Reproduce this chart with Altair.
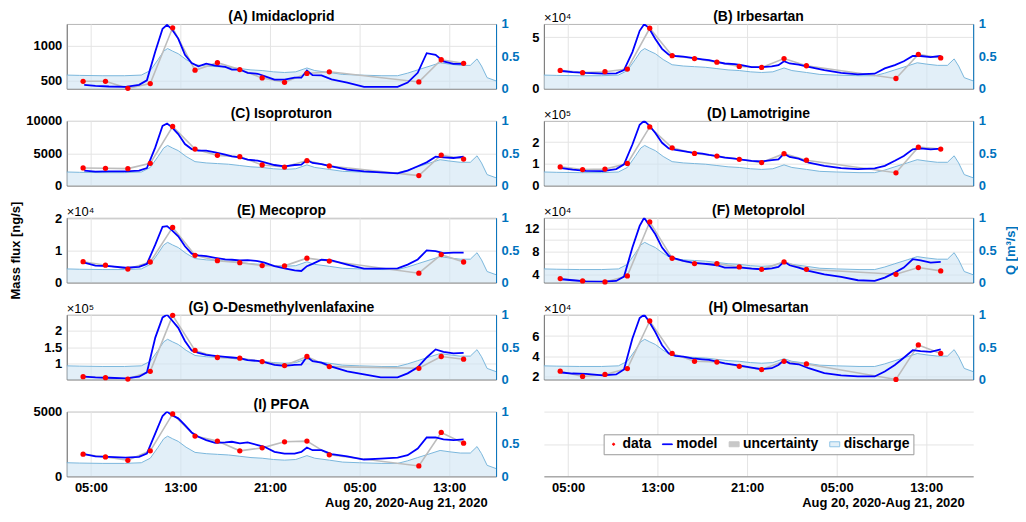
import altair as alt
import pandas as pd

FONT = "Liberation Sans"
BLUE_AX = "#0072BD"
BASE = pd.Timestamp("2020-08-20 00:00")

# ---- time positions (hours after 2020-08-20 00:00) ----
SAMPLE_HOURS = [4.3, 6.3, 8.3, 10.3, 12.3, 14.3, 16.3, 18.3, 20.3, 22.3, 24.3, 26.3, 34.3, 36.3, 38.3]
MODEL_HOURS = [4.4, 5.4, 6.6, 8.1, 9.3, 10.0, 10.75, 11.4, 11.8, 12.2, 12.8, 13.4, 14.0, 14.6, 15.3,
               16.1, 17.0, 17.6, 18.3, 19.0, 19.9, 20.5, 21.4, 22.3, 23.2, 23.8, 24.3, 24.8, 25.6,
               26.5, 27.9, 29.4, 30.9, 32.4, 33.3, 34.2, 35.0, 35.8, 36.5, 37.4, 38.3]
Q_HOURS = [2.84, 4.0, 6.0, 8.0, 9.5, 10.3, 11.0, 11.5, 11.85, 12.3, 12.8, 13.5, 14.3, 15.3, 16.3,
           17.3, 18.3, 19.3, 20.3, 21.3, 22.3, 23.3, 24.3, 25.0, 26.3, 27.5, 29.0, 31.0, 32.4,
           33.3, 34.2, 35.3, 36.2, 37.0, 38.0, 38.9, 39.5, 39.9, 40.4, 41.2]
Q_VALUES = [0.21, 0.205, 0.20, 0.20, 0.21, 0.28, 0.45, 0.58, 0.62, 0.58, 0.54, 0.45, 0.37, 0.35, 0.34,
            0.33, 0.31, 0.29, 0.28, 0.26, 0.25, 0.26, 0.32, 0.28, 0.25, 0.22, 0.21, 0.20, 0.20,
            0.24, 0.29, 0.35, 0.40, 0.38, 0.36, 0.36, 0.46, 0.35, 0.17, 0.12]
X_TICK_HOURS = [5, 13, 21, 29, 37]
X_RANGE_HOURS = [2.84, 41.2]
X_TITLE = "Aug 20, 2020-Aug 21, 2020"

# ---- panels ----
NAMES = ["(A) Imidacloprid", "(B) Irbesartan", "(C) Isoproturon", "(D) Lamotrigine", "(E) Mecoprop",
         "(F) Metoprolol", "(G) O-Desmethylvenlafaxine", "(H) Olmesartan", "(I) PFOA"]
EXPONENTS = ["", "×10⁴", "", "×10⁵", "×10⁴", "×10⁴", "×10⁵", "×10⁴", ""]
Y_DOMAINS = [[390, 1310], [0, 6.3], [0, 10000], [0, 2.98], [0, 2.02], [2.7, 13.8], [0.54, 2.46], [1.74, 8.1], [0, 5000]]
Y_TICKS = [[500, 1000], [0, 5], [0, 5000, 10000], [0, 1, 2], [0, 1, 2], [4, 6, 8, 10, 12], [1, 1.5, 2], [2, 4, 6], [0, 5000]]

imidacloprid_data = [495, 495, 395, 463, 1255, 653, 759, 662, 542, 481, 606, 630, 486, 801, 750]
imidacloprid_model = [444, 430, 421, 417, 444, 509, 917, 1241, 1296, 1241, 1102, 870, 755, 708, 745, 718, 699, 662, 662, 616, 602, 569, 518, 518, 546, 546, 648, 583, 579, 523, 477, 417, 417, 417, 477, 616, 894, 870, 778, 741, 741]
irbesartan_data = [1.78, 1.56, 1.65, 1.91, 5.88, 3.21, 2.93, 2.58, 2.16, 2.07, 2.93, 2.23, 0.99, 3.34, 2.99]
irbesartan_model = [1.72, 1.62, 1.53, 1.46, 1.49, 1.81, 3.56, 5.63, 6.27, 5.95, 4.83, 3.88, 3.31, 3.18, 3.12, 2.99, 2.86, 2.77, 2.61, 2.45, 2.39, 2.29, 2.10, 2.10, 2.16, 2.29, 2.67, 2.45, 2.35, 2.13, 1.81, 1.53, 1.40, 1.46, 1.97, 2.29, 2.67, 3.18, 3.18, 3.08, 3.18]
isoproturon_data = [2720, 2670, 2620, 3440, 9130, 5640, 4670, 4460, 3180, 2870, 3850, 3030, 1540, 4720, 4100]
isoproturon_model = [2310, 2150, 2210, 2210, 2310, 2720, 5900, 9230, 9590, 9080, 7950, 6410, 5640, 5390, 5390, 5130, 4770, 4510, 4360, 4000, 3850, 3590, 3180, 2980, 3180, 3230, 3950, 3490, 3330, 2980, 2460, 2210, 2050, 1900, 2310, 2980, 3590, 4460, 4360, 4260, 4460]
lamotrigine_data = [0.86, 0.74, 0.76, 1.02, 2.70, 1.74, 1.48, 1.36, 1.21, 1.06, 1.47, 1.17, 0.59, 1.77, 1.68]
lamotrigine_model = [0.80, 0.73, 0.68, 0.67, 0.76, 0.98, 1.89, 2.80, 2.98, 2.80, 2.42, 1.97, 1.71, 1.64, 1.59, 1.52, 1.47, 1.41, 1.36, 1.29, 1.24, 1.20, 1.14, 1.11, 1.17, 1.21, 1.47, 1.32, 1.24, 1.06, 0.91, 0.80, 0.76, 0.79, 0.91, 1.14, 1.36, 1.67, 1.71, 1.67, 1.70]
mecoprop_data = [0.65, 0.54, 0.42, 0.64, 1.72, 0.85, 0.68, 0.62, 0.53, 0.52, 0.76, 0.67, 0.29, 0.87, 0.64]
mecoprop_model = [0.62, 0.53, 0.51, 0.46, 0.49, 0.58, 1.18, 1.74, 1.76, 1.64, 1.44, 1.13, 0.90, 0.85, 0.82, 0.77, 0.72, 0.71, 0.69, 0.70, 0.67, 0.62, 0.51, 0.44, 0.38, 0.36, 0.51, 0.58, 0.71, 0.69, 0.56, 0.43, 0.43, 0.44, 0.56, 0.72, 1.00, 0.98, 0.92, 0.93, 0.93]
metoprolol_data = [3.37, 2.97, 2.80, 3.83, 13.09, 6.86, 5.94, 5.94, 5.37, 4.97, 6.23, 4.97, 4.11, 5.26, 4.69]
metoprolol_model = [3.26, 3.09, 2.91, 2.86, 2.97, 3.71, 8.69, 12.4, 13.8, 12.69, 10.97, 8.69, 7.26, 6.80, 6.40, 6.11, 5.94, 5.83, 5.66, 5.26, 5.26, 5.26, 5.09, 4.97, 5.14, 5.37, 6.29, 5.66, 5.26, 4.69, 4.11, 3.66, 3.09, 2.97, 3.54, 4.40, 5.26, 6.69, 6.51, 6.11, 6.23]
odv_data = [0.62, 0.59, 0.55, 0.78, 2.44, 1.40, 1.19, 1.17, 1.07, 0.95, 1.22, 0.92, 0.87, 1.22, 1.14]
odv_model = [0.62, 0.60, 0.59, 0.57, 0.62, 0.75, 1.78, 2.38, 2.46, 2.31, 2.07, 1.68, 1.40, 1.33, 1.27, 1.24, 1.21, 1.19, 1.17, 1.11, 1.09, 1.05, 0.97, 0.94, 0.97, 0.98, 1.21, 1.08, 1.04, 0.92, 0.78, 0.69, 0.60, 0.60, 0.72, 0.90, 1.19, 1.43, 1.36, 1.31, 1.33]
olmesartan_data = [2.55, 2.03, 2.23, 2.81, 7.48, 4.29, 3.52, 3.45, 3.03, 2.71, 3.52, 3.26, 1.74, 5.13, 4.29]
olmesartan_model = [2.42, 2.32, 2.29, 2.13, 2.23, 2.71, 5.77, 7.77, 8.1, 7.5, 6.39, 5.1, 4.29, 4.06, 3.97, 3.81, 3.71, 3.65, 3.48, 3.32, 3.16, 3.06, 2.9, 2.74, 2.84, 3.16, 3.61, 3.32, 3.23, 2.84, 2.35, 2.13, 2.03, 2.03, 2.52, 3.16, 3.87, 4.61, 4.52, 4.45, 4.68]
pfoa_data = [1710, 1500, 1240, 1970, 4820, 3110, 2720, 1970, 2200, 2670, 2720, 1660, 800, 3390, 2560]
pfoa_model = [1710, 1550, 1500, 1450, 1500, 1760, 3320, 4660, 5000, 4740, 4480, 3960, 3390, 3060, 2800, 2590, 2620, 2670, 2540, 2620, 2410, 2280, 1890, 1760, 1760, 1890, 2230, 2020, 2020, 1710, 1550, 1300, 1370, 1450, 1630, 2150, 3000, 3000, 2850, 2800, 2850]

DATA = [imidacloprid_data, irbesartan_data, isoproturon_data, lamotrigine_data, mecoprop_data,
        metoprolol_data, odv_data, olmesartan_data, pfoa_data]
MODEL = [imidacloprid_model, irbesartan_model, isoproturon_model, lamotrigine_model, mecoprop_model,
         metoprolol_model, odv_model, olmesartan_model, pfoa_model]

LEGEND_LABELS = ["data", "model", "uncertainty", "discharge"]


def ts(h):
    return (BASE + pd.Timedelta(hours=h)).strftime("%Y-%m-%dT%H:%M:%S")


def dt(h):
    t = BASE + pd.Timedelta(hours=h)
    return alt.DateTime(year=t.year, month=t.month, date=t.day, hours=t.hour, minutes=t.minute, seconds=t.second)


X_DOMAIN = [dt(h) for h in X_RANGE_HOURS]
X_TICKS = [dt(h) for h in X_TICK_HOURS]
W, H = 431, 65


def xenc(show):
    if show:
        ax = alt.Axis(values=X_TICKS, format="%H:%M", grid=True, title=X_TITLE, titleAnchor="end",
                      titleAlign="right", titleX=422, titlePadding=2, labelPadding=5, tickSize=0)
    else:
        ax = alt.Axis(values=X_TICKS, format="%H:%M", grid=True, labels=False, title=None, tickSize=0)
    return alt.X("t:T", scale=alt.Scale(domain=X_DOMAIN), axis=ax)


def make_panel(i, show_x=False, mass_title=False, q_title=False):
    dfq = pd.DataFrame({"t": [ts(h) for h in Q_HOURS], "q": Q_VALUES})
    dfs = pd.DataFrame({"t": [ts(h) for h in SAMPLE_HOURS], "v": DATA[i]})
    dfm = pd.DataFrame({"t": [ts(h) for h in MODEL_HOURS], "v": MODEL[i]})
    x = xenc(show_x)

    qax = dict(orient="right", values=[0, 0.5, 1], format="~r", grid=False, labelColor=BLUE_AX,
               domainColor=BLUE_AX, tickColor=BLUE_AX, tickSize=0, labelPadding=5)
    if q_title:
        qax.update(title="Q [m³/s]", titleColor=BLUE_AX, titleAngle=270, titleFontSize=13,
                   titleFontWeight="bold", titleX=37, titleBaseline="middle")
    else:
        qax.update(title=None)
    qy = alt.Y("q:Q", scale=alt.Scale(domain=[0, 1], nice=False), axis=alt.Axis(**qax))
    area = alt.Chart(dfq).mark_area(
        color="#cfe5f3", opacity=0.6,
        line=alt.OverlayMarkDef(color="#7ab6dc", strokeWidth=1, opacity=1),
    ).encode(x=x, y=qy)

    max_ = dict(orient="left", values=Y_TICKS[i], format="~r", grid=True, tickSize=0, labelPadding=5,
                domainColor="#777")
    if mass_title:
        max_.update(title="Mass flux [ng/s]", titleAngle=270, titleFontSize=13, titleFontWeight="bold",
                    titleX=-51, titleBaseline="middle", titleColor="black")
    else:
        max_.update(title=None)
    y = alt.Y("v:Q", scale=alt.Scale(domain=Y_DOMAINS[i], nice=False, zero=False), axis=alt.Axis(**max_))

    unc = alt.Chart(dfs).mark_line(color="#bdbdbd", strokeWidth=1.6, clip=True).encode(x=x, y=y)
    mod = alt.Chart(dfm).mark_line(color="#0000ff", strokeWidth=1.8, clip=True).encode(x=x, y=y)
    pts = alt.Chart(dfs).mark_circle(color="#ff0000", size=28, opacity=1).encode(x=x, y=y)
    ttl = alt.Chart(pd.DataFrame({"s": [NAMES[i]]})).mark_text(
        align="center", baseline="alphabetic", fontSize=14, fontWeight="bold", font=FONT, color="black"
    ).encode(x=alt.value(W / 2), y=alt.value(-3), text="s:N")
    layers = [unc, mod, pts, ttl]
    if EXPONENTS[i]:
        txt = alt.Chart(pd.DataFrame({"s": [EXPONENTS[i]]})).mark_text(
            align="left", baseline="alphabetic", fontSize=13, font=FONT, color="black"
        ).encode(x=alt.value(0), y=alt.value(-2), text="s:N")
        layers.append(txt)
    mass = alt.layer(*layers)
    return alt.layer(area, mass).resolve_scale(y="independent").properties(width=W, height=H)


def legend_panel():
    gdf = pd.DataFrame({"t": [ts(5), ts(13)], "g": [0, 1]})
    base = alt.Chart(gdf).mark_point(opacity=0).encode(
        x=xenc(True),
        y=alt.Y("g:Q", scale=alt.Scale(domain=[0, 1], nice=False),
                axis=alt.Axis(values=[0, 0.5, 1], labels=False, ticks=False, domain=False, grid=True, title=None)),
    )
    ldf = pd.DataFrame({"k": LEGEND_LABELS})
    shapes = [
        "M0,-0.22A0.22,0.22,0,1,1,0,0.22A0.22,0.22,0,1,1,0,-0.22Z",
        "M-1,-0.07H1V0.07H-1Z",
        "M-1,-0.5H1V0.5H-1Z",
        "M-1,-0.5H1V0.5H-1Z",
    ]
    # legend is hoisted to the whole chart, so its position is relative to panel A's plot origin
    leg = alt.Legend(title=None, orient="none", legendX=539, legendY=412, direction="horizontal", columns=4,
                     labelFontSize=14, labelFontWeight="bold", labelFont=FONT, labelColor="black",
                     fillColor="white", strokeColor="#999999", padding=3, columnPadding=9, labelOffset=2,
                     symbolStrokeWidth=1, symbolOpacity=1)
    marks = alt.Chart(ldf).mark_point(size=484, filled=True, clip=True, opacity=1).encode(
        x=alt.value(-300), y=alt.value(-300),
        fill=alt.Fill("k:N", scale=alt.Scale(domain=LEGEND_LABELS, range=["#ff0000", "#0000ff", "#c8c8c8", "#e3f0f8"]), legend=leg),
        stroke=alt.Stroke("k:N", scale=alt.Scale(domain=LEGEND_LABELS, range=["#ff0000", "#0000ff", "#c8c8c8", "#8ec4e6"]), legend=leg),
        shape=alt.Shape("k:N", scale=alt.Scale(domain=LEGEND_LABELS, range=shapes), legend=leg),
    )
    return alt.layer(base, marks).properties(width=W, height=H, view=alt.ViewBackground(stroke="transparent"))


panels = []
for i in range(9):
    panels.append(make_panel(i, show_x=(i == 8), mass_title=(i == 4), q_title=(i == 5)))
panels.append(legend_panel())

chart = alt.concat(*panels, columns=2, spacing={"row": 32.3, "column": 48}, bounds="flush").properties(
    padding={"left": 1, "top": 0, "right": 0, "bottom": 0}
).configure(font=FONT).configure_axis(
    labelFont=FONT, labelFontWeight="bold", labelFontSize=13, labelColor="black",
    titleFont=FONT, titleFontWeight="bold", titleFontSize=13, titleColor="black",
    gridColor="#e4e4e4", domainColor="#888888",
).configure_view(stroke="#b5b5b5")

chart.save("out.html", embed_options={"renderer": "svg", "actions": False})
